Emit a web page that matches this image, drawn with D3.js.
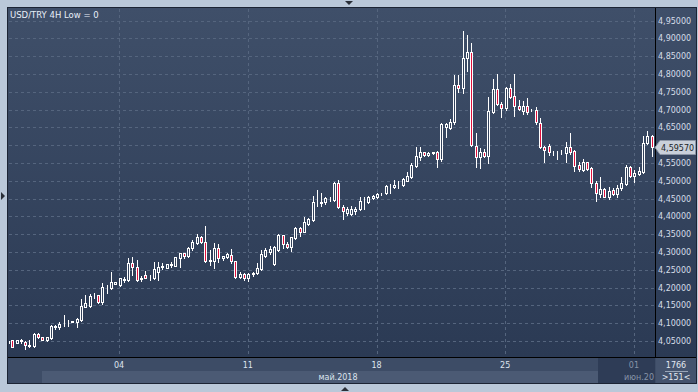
<!DOCTYPE html>
<html>
<head>
<meta charset="utf-8">
<script src="https://cdn.jsdelivr.net/npm/d3@7"></script>
<style>
  body { margin: 0; background: #bac8d9; }
  svg { display: block; }
</style>
</head>
<body>
<div class="chart"></div>
<script>
// USD/TRY, 4H candles (151 visible bars)
let opens = [4.043,4.0525,4.045,4.050,4.048,4.037,4.037,4.071,4.060,4.052,4.058,4.090,4.089,4.097,4.102,4.103,4.104,4.110,4.146,4.148,
  4.178,4.178,4.160,4.201,4.198,4.210,4.207,4.222,4.221,4.268,4.257,4.225,4.235,4.230,4.226,4.245,4.259,4.256,4.264,4.262,
  4.284,4.297,4.288,4.310,4.324,4.343,4.329,4.276,4.274,4.312,4.282,4.287,4.291,4.274,4.229,4.238,4.226,4.239,4.240,4.252,
  4.289,4.299,4.265,4.305,4.347,4.322,4.313,4.338,4.366,4.357,4.379,4.390,4.437,4.437,4.441,4.448,4.445,4.494,4.425,4.409,
  4.408,4.416,4.420,4.443,4.441,4.451,4.454,4.462,4.465,4.484,4.483,4.487,4.488,4.500,4.511,4.541,4.567,4.580,4.572,4.578,
  4.580,4.560,4.652,4.649,4.664,4.769,4.760,4.844,4.862,4.598,4.567,4.580,4.570,4.694,4.757,4.715,4.703,4.760,4.738,4.711,
  4.697,4.710,4.699,4.699,4.663,4.595,4.597,4.580,4.580,4.580,4.579,4.594,4.584,4.544,4.530,4.552,4.535,4.494,4.463,4.476,
  4.455,4.474,4.463,4.479,4.491,4.538,4.514,4.519,4.525,4.607,4.626];
let highs = [4.052,4.053,4.053,4.055,4.049,4.052,4.073,4.073,4.061,4.061,4.095,4.095,4.102,4.122,4.109,4.107,4.115,4.167,4.179,4.183,
  4.186,4.180,4.212,4.207,4.243,4.217,4.228,4.230,4.282,4.286,4.277,4.232,4.246,4.235,4.271,4.271,4.270,4.266,4.271,4.287,
  4.298,4.298,4.315,4.333,4.350,4.345,4.374,4.305,4.324,4.321,4.290,4.296,4.308,4.275,4.243,4.242,4.242,4.244,4.268,4.305,
  4.312,4.317,4.317,4.350,4.349,4.327,4.343,4.371,4.369,4.399,4.394,4.458,4.474,4.465,4.455,4.454,4.497,4.502,4.432,4.427,
  4.428,4.427,4.455,4.453,4.456,4.460,4.466,4.466,4.488,4.491,4.502,4.500,4.507,4.525,4.549,4.594,4.594,4.582,4.581,4.582,
  4.584,4.661,4.661,4.672,4.797,4.797,4.921,4.909,4.886,4.633,4.591,4.588,4.736,4.785,4.800,4.722,4.764,4.772,4.800,4.727,
  4.725,4.731,4.702,4.708,4.675,4.597,4.603,4.584,4.584,4.586,4.610,4.635,4.586,4.553,4.560,4.553,4.538,4.500,4.510,4.479,
  4.483,4.480,4.488,4.511,4.544,4.541,4.530,4.538,4.626,4.641,4.629];
let lows = [4.042,4.033,4.044,4.045,4.027,4.034,4.034,4.058,4.053,4.050,4.056,4.083,4.083,4.093,4.093,4.102,4.090,4.105,4.146,4.146,
  4.172,4.158,4.155,4.184,4.196,4.209,4.205,4.216,4.219,4.235,4.219,4.219,4.227,4.221,4.224,4.221,4.251,4.255,4.258,4.260,
  4.258,4.284,4.286,4.305,4.322,4.324,4.272,4.263,4.254,4.271,4.278,4.283,4.270,4.226,4.226,4.221,4.218,4.233,4.238,4.250,
  4.286,4.293,4.263,4.302,4.312,4.312,4.302,4.336,4.345,4.355,4.376,4.388,4.430,4.430,4.434,4.443,4.443,4.423,4.392,4.404,
  4.404,4.408,4.418,4.422,4.438,4.449,4.452,4.459,4.463,4.465,4.481,4.481,4.486,4.498,4.507,4.539,4.558,4.569,4.570,4.576,
  4.539,4.556,4.622,4.646,4.659,4.748,4.746,4.809,4.598,4.538,4.535,4.566,4.549,4.690,4.712,4.680,4.700,4.733,4.683,4.698,
  4.687,4.687,4.696,4.659,4.592,4.553,4.572,4.572,4.561,4.575,4.553,4.575,4.528,4.528,4.528,4.530,4.483,4.444,4.453,4.454,
  4.448,4.459,4.453,4.474,4.489,4.511,4.497,4.516,4.522,4.603,4.570];
let closes = [4.050,4.034,4.0525,4.052,4.039,4.039,4.071,4.060,4.054,4.060,4.092,4.092,4.097,4.098,4.103,4.106,4.113,4.148,4.157,4.176,
  4.180,4.160,4.202,4.203,4.216,4.216,4.226,4.223,4.268,4.257,4.221,4.226,4.228,4.231,4.252,4.257,4.260,4.265,4.266,4.285,
  4.296,4.288,4.310,4.327,4.343,4.327,4.274,4.277,4.312,4.282,4.288,4.293,4.274,4.229,4.238,4.226,4.238,4.240,4.254,4.294,
  4.305,4.308,4.315,4.347,4.321,4.315,4.341,4.366,4.357,4.385,4.392,4.439,4.438,4.439,4.452,4.449,4.495,4.425,4.416,4.420,
  4.420,4.422,4.444,4.444,4.453,4.457,4.463,4.463,4.485,4.485,4.488,4.488,4.504,4.514,4.544,4.569,4.580,4.571,4.579,4.580,
  4.560,4.659,4.658,4.664,4.769,4.760,4.844,4.862,4.600,4.567,4.581,4.570,4.697,4.757,4.715,4.703,4.760,4.736,4.711,4.701,
  4.710,4.694,4.700,4.664,4.594,4.586,4.581,4.580,4.581,4.582,4.594,4.582,4.541,4.532,4.552,4.532,4.494,4.465,4.476,4.455,
  4.472,4.464,4.480,4.493,4.539,4.514,4.521,4.528,4.607,4.626,4.5957];

// Day separators (bar index) and their labels
let dayBars = [26, 56, 86, 116, 146];
let dayLabels = ["04", "11", "18", "25", "01"];
let monthLabel = "май.2018";
let nextMonthLabel = "июн.20";
let title = "USD/TRY 4H Low = 0";
let totalBars = "1766";
let visibleBars = ">151<";
let yTicks = [4.05,4.10,4.15,4.20,4.25,4.30,4.35,4.40,4.45,4.50,4.55,4.60,4.65,4.70,4.75,4.80,4.85,4.90,4.95];

let W = 698, H = 392;
let plot = { left: 8, top: 8, right: 655, bottom: 357 };
let font = "'DejaVu Sans', Verdana, sans-serif";

let svg = d3.select("div.chart").append("svg")
    .attr("width", W)
    .attr("height", H);

let defs = svg.append("defs");
let grad = defs.append("linearGradient")
    .attr("id", "bg")
    .attr("x1", 0).attr("y1", 0).attr("x2", 0).attr("y2", 1);
grad.append("stop").attr("offset", "0%").attr("stop-color", "#3f4f69");
grad.append("stop").attr("offset", "100%").attr("stop-color", "#2b3a54");

defs.append("clipPath").attr("id", "clip")
  .append("rect")
    .attr("x", plot.left + 1).attr("y", plot.top + 1)
    .attr("width", plot.right - plot.left - 1)
    .attr("height", plot.bottom - plot.top - 1);
defs.append("clipPath").attr("id", "clipNext")
  .append("rect").attr("x", 598).attr("y", 358).attr("width", 57).attr("height", 25);

// Scales
let x = d3.scaleLinear().domain([0, closes.length - 1]).range([8, 651.5]);
let y = d3.scaleLinear().domain([4.05, 4.95]).range([341, 20.5]);

// Widget background
svg.append("rect")
    .attr("x", 8).attr("y", 8)
    .attr("width", 688).attr("height", 349)
    .attr("fill", "url(#bg)");

// Bottom axis bands
svg.append("rect").attr("x", 8).attr("y", 357).attr("width", 688).attr("height", 26).attr("fill", "#3d4c66");
svg.append("rect").attr("x", 42).attr("y", 371).attr("width", 556).attr("height", 12).attr("fill", "#4b5a74");
svg.append("rect").attr("x", 598).attr("y", 358).attr("width", 57).attr("height", 25).attr("fill", "#2e3c56");
svg.append("rect").attr("x", 656).attr("y", 358).attr("width", 40).attr("height", 25).attr("fill", "#44536d");

// Grid
let grid = svg.append("g").attr("stroke", "#55657e").attr("stroke-dasharray", "3,3").attr("stroke-width", 1);
grid.selectAll("line.h")
  .data(yTicks)
  .enter().append("line")
    .attr("x1", plot.left + 1).attr("x2", plot.right)
    .attr("y1", d => Math.round(y(d)) + 0.5)
    .attr("y2", d => Math.round(y(d)) + 0.5);
grid.selectAll("line.v")
  .data(dayBars)
  .enter().append("line")
    .attr("x1", d => Math.round(x(d - 0.1)) + 0.5)
    .attr("x2", d => Math.round(x(d - 0.1)) + 0.5)
    .attr("y1", plot.top + 1).attr("y2", plot.bottom);

// Candles
let bars = d3.range(closes.length).map(function(i) {
  return { i: i, o: opens[i], h: highs[i], l: lows[i], c: closes[i] };
});

let candles = svg.append("g").attr("clip-path", "url(#clip)")
  .selectAll("g.candle")
  .data(bars)
  .enter().append("g");

candles.append("rect")
    .attr("x", d => Math.round(x(d.i)))
    .attr("y", d => Math.round(y(d.h)))
    .attr("width", 1)
    .attr("height", d => Math.round(y(d.l)) - Math.round(y(d.h)) + 1)
    .attr("fill", "#ffffff");

candles.append("rect")
    .attr("x", d => Math.round(x(d.i)) - 0.5)
    .attr("y", d => Math.round(y(Math.max(d.o, d.c))) + 0.5)
    .attr("width", 2)
    .attr("height", d => Math.max(0, Math.round(y(Math.min(d.o, d.c))) - Math.round(y(Math.max(d.o, d.c)))))
    .attr("fill", d => d.c < d.o ? "#e0103c" : "#33425c")
    .attr("stroke", "#ffffff")
    .attr("stroke-width", 1);

// Frame lines
svg.append("rect")
    .attr("x", 7.5).attr("y", 7.5).attr("width", 689).attr("height", 376)
    .attr("fill", "none").attr("stroke", "#1c2434");
svg.append("line")
    .attr("x1", 655.5).attr("x2", 655.5).attr("y1", 8).attr("y2", 357)
    .attr("stroke", "#000000");
svg.append("line")
    .attr("x1", 8).attr("x2", 696).attr("y1", 357.5).attr("y2", 357.5)
    .attr("stroke", "#000000");

// Y axis labels (the one hidden behind the last price box is left out)
let fmt = d3.format(".5f");
let last = closes[closes.length - 1];
let ly = Math.round(y(last));
svg.append("g").selectAll("text")
  .data(yTicks.filter(d => Math.abs(y(d) - ly) > 9))
  .enter().append("text")
    .attr("x", 658)
    .attr("y", d => y(d) + 3)
    .attr("fill", "#d6dde8")
    .style("font-family", font)
    .style("font-size", "8px")
    .text(d => fmt(d).replace(".", ","));

// Last price marker
svg.append("path")
    .attr("d", `M655,${ly + 0.5} L660,${ly - 6.5} L695.5,${ly - 6.5} L695.5,${ly + 7.5} L660,${ly + 7.5} Z`)
    .attr("fill", "#c9d0da")
    .attr("stroke", "#8c96a6");
svg.append("text")
    .attr("x", 661)
    .attr("y", ly + 3.5)
    .attr("fill", "#1a1e26")
    .style("font-family", font)
    .style("font-size", "8px")
    .text(fmt(last).replace(".", ","));

// X axis labels
svg.append("g").selectAll("text")
  .data(dayBars)
  .enter().append("text")
    .attr("x", d => x(d - 0.1))
    .attr("y", 368)
    .attr("text-anchor", "middle")
    .attr("fill", (d, k) => k === dayBars.length - 1 ? "#8794a8" : "#dde4ee")
    .style("font-family", font)
    .style("font-size", "8px")
    .text((d, k) => dayLabels[k]);

svg.append("text")
    .attr("x", 338).attr("y", 380)
    .attr("text-anchor", "middle")
    .attr("fill", "#dde4ee")
    .style("font-family", font).style("font-size", "8px")
    .text(monthLabel);

svg.append("text")
    .attr("x", 654).attr("y", 380)
    .attr("text-anchor", "end")
    .attr("clip-path", "url(#clipNext)")
    .attr("fill", "#8794a8")
    .style("font-family", font).style("font-size", "8px")
    .text(nextMonthLabel);

// Bar counters
svg.append("text")
    .attr("x", 676).attr("y", 368)
    .attr("text-anchor", "middle")
    .attr("fill", "#e2e8f0")
    .style("font-family", font).style("font-size", "8px")
    .text(totalBars);
svg.append("line")
    .attr("x1", 665).attr("x2", 688).attr("y1", 371.5).attr("y2", 371.5)
    .attr("stroke", "#9aa6b8");
svg.append("text")
    .attr("x", 676).attr("y", 380)
    .attr("text-anchor", "middle")
    .attr("fill", "#e2e8f0")
    .style("font-family", font).style("font-size", "8px")
    .text(visibleBars);

// Title
svg.append("text")
    .attr("x", 10).attr("y", 18)
    .attr("fill", "#e8eef8")
    .style("font-family", font)
    .style("font-size", "8.5px")
    .text(title);

// Little scroll arrows
svg.append("path").attr("d", "M345,1 L353,1 L349,5 Z").attr("fill", "#2a2f38");
svg.append("path").attr("d", "M1,192 L1,200 L5,196 Z").attr("fill", "#2a2f38");
svg.append("path").attr("d", "M341,391 L349,391 L345,387 Z").attr("fill", "#2a2f38");
</script>
</body>
</html>
